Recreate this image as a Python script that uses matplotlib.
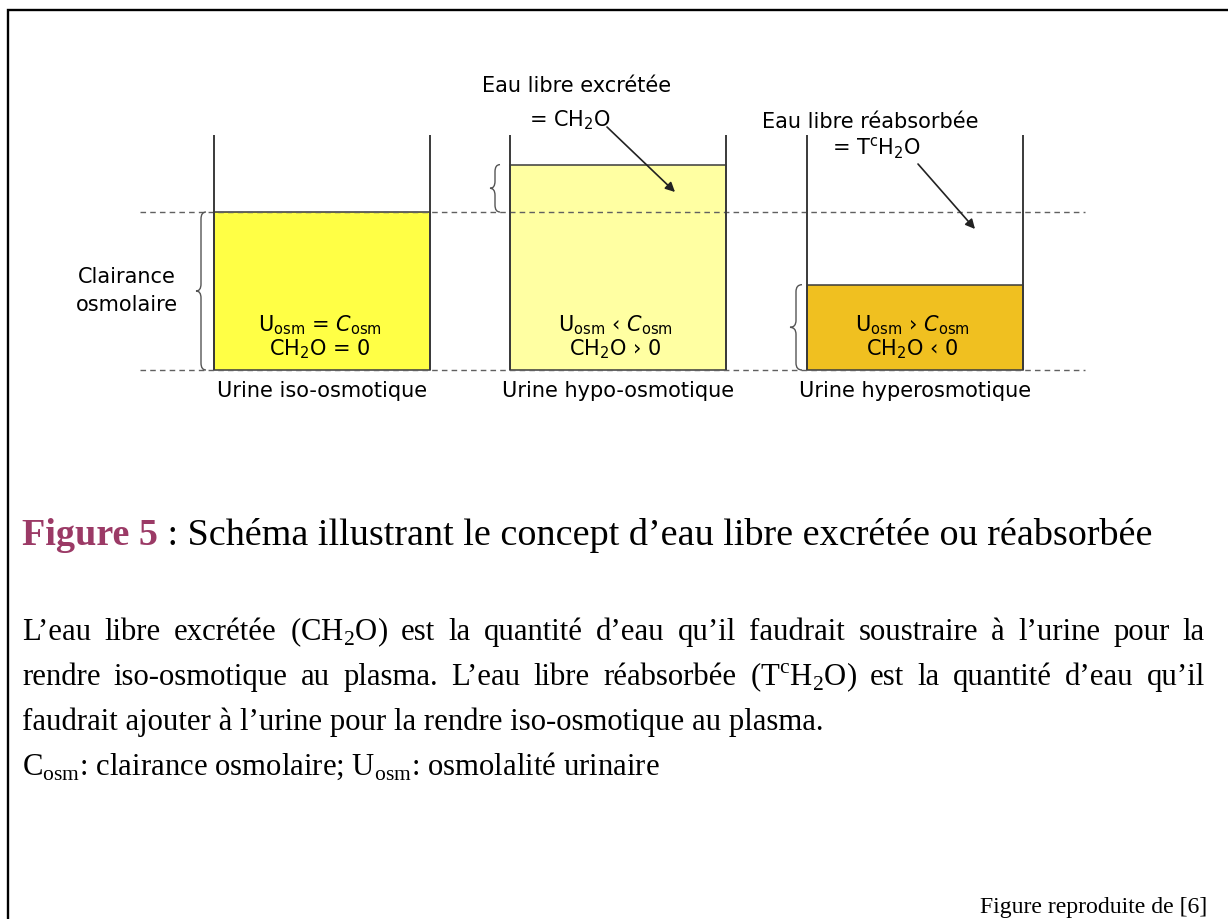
import matplotlib
matplotlib.use("Agg")
import matplotlib.pyplot as plt
from matplotlib.path import Path
from matplotlib.patches import PathPatch

plt.rcParams['mathtext.fontset'] = 'custom'
plt.rcParams['mathtext.rm'] = 'Liberation Serif'
plt.rcParams['mathtext.it'] = 'DejaVu Sans:italic'
plt.rcParams['mathtext.sf'] = 'DejaVu Sans'
plt.rcParams['mathtext.bf'] = 'Liberation Serif:bold'

# ---------------- data ----------------
urine_types = ["Urine iso-osmotique", "Urine hypo-osmotique", "Urine hyperosmotique"]
urine_levels = [1.0, 1.30, 0.54]          # urine volume relative to osmolar clearance
fill_colors = ["#FFFF45", "#FFFFA2", "#F0C020"]
uosm_relations = ["=", "\u2039", "\u203a"]
ch2o_relations = ["= 0", "\u203a 0", "\u2039 0"]
clearance_label = "Clairance\nosmolaire"
free_water_labels = ["Eau libre excrétée", "Eau libre réabsorbée"]
free_water_symbols = [r"= CH$_{\mathsf{2}}$O", r"= T$^{\mathsf{c}}$H$_{\mathsf{2}}$O"]

caption_head = "Figure 5"
caption_tail = " : Schéma illustrant le concept d\u2019eau libre excrétée ou réabsorbée"
para_justified = [
    "L\u2019eau libre excrétée (CH$_2$O) est la quantité d\u2019eau qu\u2019il faudrait soustraire à l\u2019urine pour la",
    "rendre iso-osmotique au plasma. L\u2019eau libre réabsorbée (T$^{\\mathrm{c}}$H$_2$O) est la quantité d\u2019eau qu\u2019il",
]
para_left = [
    "faudrait ajouter à l\u2019urine pour la rendre iso-osmotique au plasma.",
    "C$_{\\mathrm{osm}}$: clairance osmolaire; U$_{\\mathrm{osm}}$: osmolalité urinaire",
]
source_note = "Figure reproduite de [6]"

# ---------------- layout ----------------
W, H = 1228, 920
BASE_PX, UNIT_PX = 371, 158
centers = [321.5, 617.5, 914.5]
cwidth = 216
wall_top = 1.487
SANS = "DejaVu Sans"
SERIF = "Liberation Serif"
INK = "#3a3a3a"

fig = plt.figure(figsize=(W / 100, H / 100), dpi=100)
ax_d = fig.add_axes([0, 0, 1, 1])
ax_d.set_xlim(0, W)
ax_d.set_ylim((BASE_PX - H) / UNIT_PX, BASE_PX / UNIT_PX)
ax_d.axis("off")
ax_p = fig.add_axes([0, 0, 1, 1])
ax_p.set_xlim(0, W)
ax_p.set_ylim(H, 0)
ax_p.axis("off")
ax_p.patch.set_alpha(0)

r = fig.canvas.get_renderer()


def text_width(s, **kw):
    t = ax_p.text(0, 0, s, **kw)
    w = t.get_window_extent(r).width
    t.remove()
    return w


# ---------------- diagram ----------------
ax_d.bar(centers, urine_levels, width=cwidth, color=fill_colors,
         edgecolor=INK, linewidth=1.1, zorder=1)
ax_d.hlines([0, 1], 140, 1085, colors="#606060", linestyles=(0, (4, 3)),
            linewidth=1.0, zorder=2)
for c in centers:
    ax_d.vlines([c - cwidth / 2, c + cwidth / 2], 0, wall_top, colors=INK,
                linewidth=1.4, zorder=3)


def brace(ax, x_right, x_tip, y0, y1):
    xm = (x_right + x_tip) / 2
    ym = (y0 + y1) / 2
    d = 7 / UNIT_PX
    verts = [(x_right, y1), (xm, y1), (xm, y1 - d),
             (xm, ym + d), (xm, ym), (x_tip, ym),
             (xm, ym), (xm, ym - d),
             (xm, y0 + d), (xm, y0), (x_right, y0)]
    codes = [Path.MOVETO, Path.CURVE3, Path.CURVE3,
             Path.LINETO, Path.CURVE3, Path.CURVE3,
             Path.CURVE3, Path.CURVE3,
             Path.LINETO, Path.CURVE3, Path.CURVE3]
    ax.add_patch(PathPatch(Path(verts, codes), fill=False, edgecolor="#555555",
                           linewidth=1.0, zorder=3))


brace(ax_d, 206, 196, 0, 1)
brace(ax_d, 500, 490, 1, urine_levels[1])
brace(ax_d, 802, 790, 0, urine_levels[2])

fs_d = 13 * 232 / text_width(urine_types[1], fontsize=13, family=SANS)

for c, lab in zip(centers, urine_types):
    ax_p.text(c + 1, 391, lab, ha="center", va="center", fontsize=fs_d, family=SANS)
for c, rel, ch in zip(centers, uosm_relations, ch2o_relations):
    ax_p.text(c - 2, 325, r"U$_{\mathsf{osm}}$ " + rel + r" $C_{\mathsf{osm}}$",
              ha="center", va="center", fontsize=fs_d, family=SANS)
    ax_p.text(c - 2, 349, r"CH$_{\mathsf{2}}$O " + ch,
              ha="center", va="center", fontsize=fs_d, family=SANS)

ax_p.text(127, 291, clearance_label, ha="center", va="center", fontsize=fs_d,
          family=SANS, linespacing=1.45)

ax_p.text(577, 86, free_water_labels[0], ha="center", va="center", fontsize=fs_d, family=SANS)
ax_p.text(570, 120, free_water_symbols[0], ha="center", va="center", fontsize=fs_d, family=SANS)
ax_p.text(870, 122, free_water_labels[1], ha="center", va="center", fontsize=fs_d, family=SANS)
ax_p.text(876, 148, free_water_symbols[1], ha="center", va="center", fontsize=fs_d, family=SANS)

arrow_kw = dict(arrowstyle="-|>", color="#222222", lw=1.2, mutation_scale=14,
                shrinkA=0, shrinkB=0)
ax_p.annotate("", xy=(675, 193), xytext=(607, 128), arrowprops=arrow_kw)
ax_p.annotate("", xy=(975, 230), xytext=(918, 165), arrowprops=arrow_kw)

# ---------------- border ----------------
ax_p.plot([8, 8, W], [H, 10.5, 10.5], color="black", lw=1.7,
          solid_joinstyle="miter", solid_capstyle="butt")

# ---------------- caption ----------------
LEFT, RIGHT = 22, 1205
cap_w = (text_width(caption_head, fontsize=24, family=SERIF, weight="bold")
         + text_width(caption_tail, fontsize=24, family=SERIF))
fs_cap = 24 * (1150 - LEFT) / cap_w
t_head = ax_p.text(LEFT, 545, caption_head, fontsize=fs_cap, family=SERIF,
                   weight="bold", color="#9B3A66", va="baseline", ha="left")
hw = t_head.get_window_extent(r).width
ax_p.text(LEFT + hw, 545, caption_tail, fontsize=fs_cap, family=SERIF,
          va="baseline", ha="left")

# ---------------- paragraph ----------------
fs_b = 18 * 1110 / text_width(para_justified[0], fontsize=18, family=SERIF)
LINE_Y = [640, 685, 730, 775]
for y, line in zip(LINE_Y[:2], para_justified):
    words = line.split(" ")
    widths = [text_width(wd, fontsize=fs_b, family=SERIF) for wd in words]
    gap = (RIGHT - LEFT - sum(widths)) / (len(words) - 1)
    x = LEFT
    for wd, w in zip(words, widths):
        ax_p.text(x, y, wd, fontsize=fs_b, family=SERIF, va="baseline", ha="left")
        x += w + gap
for y, line in zip(LINE_Y[2:], para_left):
    ax_p.text(LEFT, y, line, fontsize=fs_b, family=SERIF, va="baseline", ha="left")

fs_src = 16 * 228 / text_width(source_note, fontsize=16, family=SERIF)
ax_p.text(1207, 913, source_note, fontsize=fs_src, family=SERIF,
          va="baseline", ha="right")

fig.savefig("out.png", dpi=100, facecolor="white")
